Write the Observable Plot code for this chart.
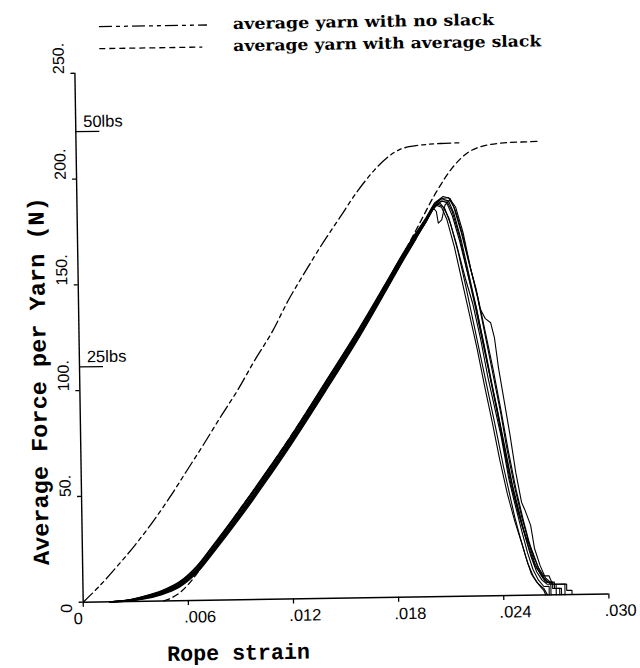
<!DOCTYPE html>
<html><head><meta charset="utf-8">
<script src="https://cdn.jsdelivr.net/npm/d3@7"></script>
<script src="https://cdn.jsdelivr.net/npm/@observablehq/plot@0.6"></script>
<style>
body{margin:0;background:#fff;}
#wrap{position:relative;width:640px;height:668px;transform:rotate(-0.9deg);transform-origin:82.7px 601.7px;background:#fff;}
#legend svg,#chart svg{display:block;}
</style></head><body><div id="wrap"><div id="legend"></div><div id="chart"></div></div>
<script>
// ---------- data ----------
const xTickValues = [0, 0.006, 0.012, 0.018, 0.024, 0.030];
const xTickLabels = ["0", ".006", ".012", ".018", ".024", ".030"];
const yTickValues = [0, 50, 100, 150, 200, 250];
const yTickLabels = ["0", "50.", "100.", "150.", "200.", "250."];
const lbsValues = [222.4, 111.2];
const lbsLabels = ["50lbs", "25lbs"];
const legendLabels = ["average yarn with no slack", "average yarn with average slack"];
const xTitle = "Rope strain";
const yTitle = "Average Force per Yarn (N)";

// model: average yarn with no slack (dash-dot)
const noSlackStrain = [0, 0.0010, 0.0020, 0.0030, 0.0040, 0.0050, 0.0060, 0.0070, 0.0080, 0.0090, 0.0100, 0.0110, 0.0120, 0.0130, 0.0140, 0.0150, 0.0160, 0.0170, 0.0178, 0.0184, 0.0190, 0.0198, 0.0208, 0.0220];
const noSlackForce  = [0, 8, 17, 26.5, 37, 48.5, 61, 73.5, 86.5, 99, 113, 126, 141.5, 155, 168, 180, 192, 202, 208.2, 211.3, 212.8, 213.6, 214.1, 214.3];
// model: average yarn with average slack (dashed)
const avgSlackStrain = [0.0046, 0.0050, 0.0055, 0.0060, 0.0065, 0.0070, 0.0080, 0.0090, 0.0100, 0.0120, 0.0140, 0.0160, 0.0175, 0.0185, 0.0195, 0.0205, 0.0215, 0.0223, 0.0229, 0.0236, 0.0244, 0.0254, 0.0265];
const avgSlackForce  = [0, 1.2, 3.6, 7.5, 12.5, 18.5, 30.5, 42.5, 53.5, 77, 101.5, 126.5, 147, 161, 176, 191, 203, 209.3, 211.8, 213.2, 213.9, 214.2, 214.4];

// measured rope tests (solid): shared strain grid for the loading part
const riseStrain = [0.0015, 0.0025, 0.0035, 0.0045, 0.0055, 0.0065, 0.0075, 0.0090, 0.0105, 0.0120, 0.0140, 0.0160, 0.0175, 0.0185, 0.0193];
const riseForces = [
  [0, 0.2, 1.3, 3.3, 6.8, 13.4, 23.2, 39.0, 55.8, 73.3, 98.2, 123.8, 144.5, 158.6, 169.3],
  [0, 0.3, 1.6, 3.7, 7.3, 14.1, 24.0, 39.9, 56.8, 74.3, 99.3, 124.8, 145.4, 159.5, 170.1],
  [0, 0.4, 1.9, 4.1, 7.8, 14.8, 24.8, 40.8, 57.8, 75.3, 100.4, 125.9, 146.4, 160.3, 170.8],
  [0, 0.5, 2.1, 4.4, 8.3, 15.4, 25.6, 41.6, 58.6, 76.1, 101.2, 126.7, 147.1, 161.0, 171.3],
  [0, 0.6, 2.4, 4.9, 8.9, 16.1, 26.4, 42.5, 59.5, 77.0, 102.1, 127.5, 147.8, 161.6, 171.9],
  [0, 0.3, 1.5, 3.5, 7.0, 13.7, 23.6, 39.4, 56.3, 73.8, 98.8, 124.3, 145.0, 159.1, 169.8],
  [0, 0.4, 1.8, 4.0, 7.6, 14.5, 24.5, 40.5, 57.4, 74.9, 99.9, 125.3, 145.8, 159.9, 170.5],
  [0, 0.6, 2.3, 4.7, 8.6, 15.8, 26.0, 42.1, 59.1, 76.6, 101.7, 127.1, 147.5, 161.3, 171.6],
  [0, 0.2, 1.1, 3.0, 6.4, 12.9, 22.7, 38.4, 55.2, 72.8, 97.7, 123.3, 144.1, 158.2, 169.0]
];
// peak and failure part of each test: [strain, force]
const failPoints = [
  [[0.0199,177],[0.0203,183],[0.0206,185.5],[0.0209,184],[0.0212,179],[0.0216,167],[0.0221,150],[0.0225,138],[0.0229,122],[0.0233,103],[0.0236,91],[0.0240,75],[0.0244,55],[0.0247,44],[0.0251,30],[0.0254,20],[0.0257,12],[0.0260,7],[0.0263,4],[0.0266,4],[0.0266,0]],
  [[0.0199,177.5],[0.0204,184],[0.0208,187],[0.0211,186],[0.0214,180],[0.0218,168],[0.0223,150],[0.0227,136],[0.0231,118],[0.0235,100],[0.0238,88],[0.0242,70],[0.0246,52],[0.0250,38],[0.0253,27],[0.0256,18],[0.0259,11],[0.0262,7],[0.0265,5],[0.0270,5],[0.0270,0]],
  [[0.0199,178],[0.0203,184],[0.0205,182],[0.0206,176.5],[0.0208,178],[0.0210,185],[0.0213,187.5],[0.0216,184],[0.0220,172],[0.0224,155],[0.0228,140],[0.0232,122],[0.0236,104],[0.0240,86],[0.0243,70],[0.0247,52],[0.0251,37],[0.0255,24],[0.0258,15],[0.0261,10],[0.0264,6],[0.0268,6],[0.0268,3],[0.0272,3],[0.0272,0]],
  [[0.0199,178.5],[0.0204,185],[0.0208,188],[0.0212,188.5],[0.0215,184],[0.0219,172],[0.0223,158],[0.0227,145],[0.0229,136],[0.0232,131],[0.0235,129],[0.0237,122],[0.0239,108],[0.0242,92],[0.0245,76],[0.0248,58],[0.0251,44],[0.0253,40],[0.0256,33],[0.0258,22],[0.0261,14],[0.0264,8],[0.0268,5],[0.0275,5],[0.0275,0]],
  [[0.0199,179],[0.0203,184.5],[0.0207,186],[0.0210,183],[0.0213,176],[0.0217,163],[0.0221,147],[0.0225,130],[0.0229,113],[0.0233,96],[0.0237,79],[0.0241,61],[0.0244,49],[0.0247,37],[0.0250,27],[0.0253,18],[0.0256,10],[0.0259,6],[0.0263,3],[0.0265,0]],
  [[0.0199,177],[0.0203,183.5],[0.0207,186.5],[0.0211,187],[0.0214,182],[0.0218,170],[0.0222,154],[0.0226,138],[0.0230,121],[0.0234,104],[0.0238,86],[0.0242,67],[0.0245,53],[0.0249,39],[0.0253,28],[0.0257,20],[0.0260,13],[0.0263,9],[0.0266,9],[0.0268,5],[0.0276,5],[0.0276,2],[0.0279,2],[0.0279,0]],
  [[0.0199,178],[0.0204,185.5],[0.0208,188],[0.0212,187],[0.0215,181],[0.0219,168],[0.0223,152],[0.0227,136],[0.0231,119],[0.0235,101],[0.0239,83],[0.0243,64],[0.0247,47],[0.0251,33],[0.0255,22],[0.0258,14],[0.0262,9],[0.0265,6],[0.0269,6],[0.0269,3],[0.0273,3],[0.0273,0]],
  [[0.0199,179],[0.0204,186],[0.0209,189],[0.0213,188],[0.0216,182],[0.0220,170],[0.0224,155],[0.0228,141],[0.0232,124],[0.0236,107],[0.0240,88],[0.0244,68],[0.0248,50],[0.0252,35],[0.0255,25],[0.0258,17],[0.0261,11],[0.0264,7],[0.0267,5],[0.0267,0]],
  [[0.0198,176],[0.0202,182.5],[0.0205,185],[0.0208,184],[0.0211,178],[0.0215,165],[0.0219,149],[0.0223,133],[0.0227,117],[0.0231,99],[0.0235,82],[0.0239,64],[0.0243,48],[0.0247,35],[0.0251,24],[0.0254,15],[0.0257,9],[0.0260,5],[0.0263,2],[0.0264,0]]
];

// ---------- build tables ----------
const noSlack = noSlackStrain.map((s, i) => ({strain: s, force: noSlackForce[i]}));
const avgSlack = avgSlackStrain.map((s, i) => ({strain: s, force: avgSlackForce[i]}));
const rise = [], fail = [];
riseForces.forEach((f, k) => {
  riseStrain.forEach((s, i) => rise.push({id: k, strain: s, force: f[i]}));
  fail.push({id: k, strain: riseStrain[riseStrain.length - 1], force: f[f.length - 1]});
  failPoints[k].forEach(([s, v]) => fail.push({id: k, strain: s, force: v}));
});
const xTicks = xTickValues.map((v, i) => ({v, label: xTickLabels[i]}));
const yTicks = yTickValues.map((v, i) => ({v, label: yTickLabels[i]}));
const lbs = lbsValues.map((v, i) => ({v, label: lbsLabels[i]}));

const tickFont = "'Liberation Sans Narrow','Arial Narrow','Liberation Sans',Arial,sans-serif";
const sansFont = "'Liberation Sans',Arial,sans-serif";
const monoFont = "'Liberation Mono','Courier New',monospace";
const DASHDOT = "13,4,4,4,4,4";
const DASHED = "6,4";

// ---------- legend ----------
const LEG_H = 62;
const legendStyles = [DASHDOT, DASHED];
const lg = d3.create("svg").attr("width", 640).attr("height", LEG_H).attr("viewBox", `0 0 640 ${LEG_H}`);
legendLabels.forEach((lab, i) => {
  const y = 27 + i * 22;
  lg.append("line").attr("x1", 108).attr("x2", i === 0 ? 216 : 211).attr("y1", y).attr("y2", y)
    .attr("stroke", "#000").attr("stroke-width", 1.3).attr("stroke-dasharray", legendStyles[i]);
  lg.append("text").attr("x", 242).attr("y", y + 4.5).text(lab)
    .attr("font-family", "'DejaVu Serif',serif").attr("font-weight", "bold").attr("font-size", 15.5)
    .attr("fill", "#000")
    .attr("textLength", i === 0 ? 261 : 308).attr("lengthAdjust", "spacingAndGlyphs");
});
document.getElementById("legend").appendChild(lg.node());

// ---------- chart ----------
const chart = Plot.plot({
  width: 640, height: 668 - LEG_H,
  marginLeft: 82.7, marginRight: 31.6, marginTop: 72.7 - LEG_H, marginBottom: 66.3,
  style: {background: "white", overflow: "visible", fontFamily: sansFont},
  x: {domain: [0, 0.030]},
  y: {domain: [0, 250]},
  marks: [
    Plot.axisX(xTickValues, {tickSize: 5, tickFormat: () => "", label: null, strokeWidth: 1.3}),
    Plot.axisY(yTickValues, {tickSize: 4, tickFormat: () => "", label: null, strokeWidth: 1.3}),
    Plot.axisY(lbsValues, {tickSize: -24, tickFormat: () => "", label: null, strokeWidth: 1.3}),
    Plot.ruleY([0], {strokeWidth: 1.4}),
    Plot.ruleX([0], {strokeWidth: 1.4}),
    // x tick labels
    Plot.text(xTicks.filter(d => d.v !== 0), {x: "v", y: () => 0, text: "label", textAnchor: "start", lineAnchor: "bottom", dx: -4.5, dy: 22, fontSize: 16.5, fontFamily: sansFont}),
    Plot.text(xTicks.filter(d => d.v === 0), {x: "v", y: () => 0, text: "label", textAnchor: "end", lineAnchor: "bottom", dx: -0.5, dy: 22, fontSize: 16.5, fontFamily: sansFont}),
    // y tick labels (rotated)
    Plot.text(yTicks.filter(d => d.v !== 0), {x: () => 0, y: "v", text: "label", rotate: -90, textAnchor: "start", lineAnchor: "middle", dx: -16, dy: 0.5, fontSize: 16, fontFamily: tickFont}),
    Plot.text(yTicks.filter(d => d.v === 0), {x: () => 0, y: "v", text: "label", rotate: -90, textAnchor: "end", lineAnchor: "middle", dx: -16.5, dy: 1.5, fontSize: 16, fontFamily: tickFont}),
    // lbs reference labels
    Plot.text(lbs, {x: () => 0, y: "v", text: "label", textAnchor: "start", lineAnchor: "bottom", dx: 7.5, dy: -4.5, fontSize: 16.5, fontFamily: sansFont}),
    // curves
    Plot.line(rise, {x: "strain", y: "force", z: "id", stroke: "#000", strokeWidth: 1.25, curve: "catmull-rom"}),
    Plot.line(fail, {x: "strain", y: "force", z: "id", stroke: "#000", strokeWidth: 1.1, strokeLinejoin: "round"}),
    Plot.line(noSlack, {x: "strain", y: "force", stroke: "#000", strokeWidth: 1.3, strokeDasharray: DASHDOT, curve: "catmull-rom"}),
    Plot.line(avgSlack, {x: "strain", y: "force", stroke: "#000", strokeWidth: 1.3, strokeDasharray: DASHED, curve: "catmull-rom"}),
    // axis titles
    Plot.text([xTitle], {frameAnchor: "bottom-left", text: d => d, textAnchor: "start", lineAnchor: "bottom", dx: 83, dy: 60, fontSize: 22, fontFamily: monoFont, fontWeight: "bold"}),
    Plot.text([yTitle], {frameAnchor: "left", text: d => d, rotate: -90, textAnchor: "middle", lineAnchor: "middle", dx: -41, dy: 42.8, fontSize: 23, fontFamily: monoFont, fontWeight: "bold"})
  ]
});
d3.select(chart).selectAll("text").each(function() {
  const t = this.textContent;
  if (t === xTitle) d3.select(this).attr("textLength", 143).attr("lengthAdjust", "spacingAndGlyphs");
  if (t === yTitle) d3.select(this).attr("textLength", 368).attr("lengthAdjust", "spacingAndGlyphs");
});
document.getElementById("chart").appendChild(chart);
</script></body></html>
